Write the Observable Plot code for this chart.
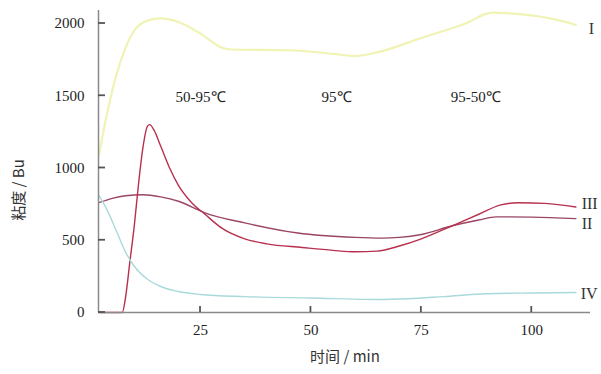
<!DOCTYPE html>
<html>
<head>
<meta charset="utf-8">
<script src="https://cdn.jsdelivr.net/npm/d3@7"></script>
<script src="https://cdn.jsdelivr.net/npm/@observablehq/plot@0.6"></script>
<style>
  html, body { margin: 0; padding: 0; background: #fff; }
</style>
</head>
<body>
<div id="chart"></div>
<script>
// time (min), viscosity (Bu)
const curveI_t = [2, 4, 6, 8, 10, 13, 16, 20, 25, 30, 32, 45, 55, 60, 65, 75, 85, 91, 95, 105, 110];
const curveI_v = [1090, 1400, 1650, 1830, 1950, 2020, 2035, 2010, 1930, 1830, 1820, 1815, 1790, 1775, 1800, 1900, 2000, 2075, 2070, 2030, 1990];

const curveII_t = [2, 5, 8, 12, 16, 20, 26, 35, 47, 60, 66, 70, 75, 82, 88, 92, 100, 110];
const curveII_v = [760, 790, 808, 815, 800, 770, 690, 620, 550, 520, 515, 520, 540, 600, 640, 662, 660, 650];

const curveIII_t = [2, 5, 7.3, 8, 9, 10, 11, 12, 13, 13.5, 14.5, 16, 18, 20, 23, 26, 30, 35, 40, 48, 55, 60, 65, 70, 75, 82, 88, 93, 97, 103, 110];
const curveIII_v = [0, 0, 0, 100, 350, 600, 900, 1150, 1290, 1300, 1260, 1150, 1000, 880, 760, 680, 580, 510, 475, 450, 430, 420, 425, 460, 510, 600, 680, 745, 760, 755, 730];

const curveIV_t = [2, 4, 6, 8, 10, 13, 16, 20, 25, 35, 50, 65, 72, 80, 90, 100, 110];
const curveIV_v = [810, 700, 560, 420, 320, 230, 180, 145, 125, 110, 100, 90, 95, 110, 130, 135, 138];

const xTicks = [25, 50, 75, 100];
const yTicks = [0, 500, 1000, 1500, 2000];

const phaseLabels = ["50-95℃", "95℃", "95-50℃"];
const phaseX = [25, 55.8, 87.3];
const phaseY = [1488, 1488, 1488];

const seriesNames = ["I", "II", "III", "IV"];
const seriesColors = ["#f0f3b4", "#9a4466", "#b8304e", "#a9d9da"];
const seriesWidths = [2.2, 1.4, 1.4, 1.4];
const labelX = [112.9, 111.3, 111.3, 111.1];
const labelY = [1965, 616, 754, 131];

const times = [curveI_t, curveII_t, curveIII_t, curveIV_t];
const vals = [curveI_v, curveII_v, curveIII_v, curveIV_v];

const lines = seriesNames.map((name, i) =>
  Plot.line(times[i].map((t, j) => ({t, v: vals[i][j]})), {
    x: "t", y: "v", stroke: seriesColors[i], strokeWidth: seriesWidths[i], curve: "monotone-x"
  })
);

const phases = phaseLabels.map((s, i) => ({s, x: phaseX[i], y: phaseY[i]}));
const labels = seriesNames.map((s, i) => ({s, x: labelX[i], y: labelY[i]}));

const chart = Plot.plot({
  width: 601,
  height: 374,
  marginLeft: 98,
  marginRight: 11,
  marginTop: 10,
  marginBottom: 62,
  style: { fontFamily: "'Liberation Serif', serif", fontSize: "15px", color: "#222", background: "#fff" },
  x: { type: "linear", domain: [1.9, 113.3] },
  y: { type: "linear", domain: [0, 2090] },
  marks: [
    ...lines,
    Plot.ruleY([0], {stroke: "#8a8a8a", strokeWidth: 1.5}),
    Plot.ruleX([1.9], {stroke: "#8a8a8a", strokeWidth: 1.5}),
    Plot.text(phases, {x: "x", y: "y", text: "s", fontSize: 15, fill: "#222"}),
    Plot.text(labels, {x: "x", y: "y", text: "s", textAnchor: "start", fontSize: 16, fill: "#333"}),
    Plot.axisX({ticks: xTicks, tickSize: 0, tickPadding: 12, fontSize: 15, fill: "#222", label: null, tickFormat: "d"}),
    Plot.axisY({ticks: yTicks, tickSize: 0, tickPadding: 14, fontSize: 15, fill: "#222", label: null, tickFormat: "d"})
  ]
});

const svg = d3.select(chart);
const xs = chart.scale("x"), ys = chart.scale("y");
const x0 = xs.apply(xs.domain[0]), y0 = ys.apply(0);
// inward tick marks, positioned through Plot's scales
const tg = svg.append("g");
xTicks.forEach(t => {
  const px = xs.apply(t);
  tg.append("path").attr("d", `M${px},${y0}V${y0 - 6}`).attr("stroke", "#555").attr("stroke-width", 1.8).attr("fill", "none");
});
yTicks.forEach(v => {
  const py = ys.apply(v);
  tg.append("path").attr("d", `M${x0},${py}H${x0 + 7}`).attr("stroke", "#555").attr("stroke-width", 1.8).attr("fill", "none");
});
svg.append("text")
  .attr("x", 345).attr("y", 362)
  .attr("text-anchor", "middle")
  .attr("font-size", 15).attr("fill", "#333")
  .attr("font-family", "'Noto Sans CJK SC', 'Liberation Serif', serif")
  .text("时间 / min");
svg.append("text")
  .attr("transform", "translate(24,190) rotate(-90)")
  .attr("text-anchor", "middle")
  .attr("font-size", 15).attr("fill", "#333")
  .attr("font-family", "'Noto Sans CJK SC', 'Liberation Serif', serif")
  .text("粘度 / Bu");
document.getElementById("chart").appendChild(chart);
</script>
</body>
</html>
